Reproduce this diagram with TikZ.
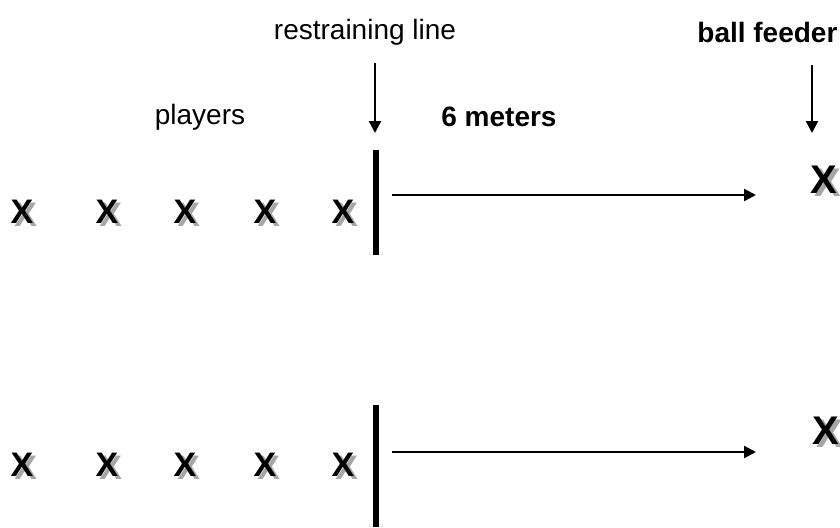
\documentclass[tikz,border=0pt]{standalone}
\usepackage{fontspec}
\setmainfont{Liberation Sans}
\usetikzlibrary{arrows.meta}
\newcommand{\shX}{\rlap{\hspace{1.8pt}\raisebox{-1.6pt}[0pt][0pt]{\textcolor{black!35}{X}}}X}
\begin{document}
\begin{tikzpicture}[x=0.5pt,y=-0.5pt,
  lbl/.style={font=\fontsize{14}{16}\selectfont, inner sep=0pt},
  blbl/.style={font=\fontsize{14}{16}\selectfont\bfseries, inner sep=0pt},
  xm/.style={font=\fontsize{17}{19}\selectfont\bfseries, inner sep=0pt, text=black},
  fm/.style={font=\fontsize{20}{22}\selectfont\bfseries, inner sep=0pt, text=black},
  bar/.style={line width=3pt},
  arr/.style={line width=1.2pt, -{Triangle[width=6pt,length=6pt]}},
  darr/.style={line width=1.2pt, -{Triangle[width=6pt,length=6pt]}}]
\useasboundingbox (0,0) rectangle (840,527);
\clip (0,0) rectangle (840,527);
% labels
\node[lbl] (rl) at (365,32) {restraining line};
\node[blbl, anchor=west] (bf) at (697,32) {ball feeder};
\node[lbl] (pl) at (200,117) {players};
\node[blbl] (m6) at (499,117) {6 meters};
% pointer arrows
\coordinate (rlA) at (375,63);
\coordinate (rlB) at (375,133);
\coordinate (bfA) at (812,65);
\coordinate (bfB) at (812,133);
\draw[darr] (rlA) -- (rlB);
\draw[darr] (bfA) -- (bfB);
% restraining bars
\coordinate (b1t) at (376,150);
\coordinate (b1b) at (376,255);
\coordinate (b2t) at (376,405);
\coordinate (b2b) at (376,527);
\draw[bar] (b1t) -- (b1b);
\draw[bar] (b2t) -- (b2b);
% distance arrows
\coordinate (a1s) at (392,195);
\coordinate (a1e) at (756,195);
\coordinate (a2s) at (392,452);
\coordinate (a2e) at (756,452);
\draw[arr] (a1s) -- (a1e);
\draw[arr] (a2s) -- (a2e);
% players
\foreach \i/\x in {1/22,2/107,3/185,4/265,5/343}{
  \node[xm] (t\i) at (\x,212) {\shX};
  \node[xm] (u\i) at (\x,465) {\shX};
}
% ball feeders
\node[fm] (f1) at (824,180) {\shX};
\node[fm] (f2) at (826,431) {\shX};
\end{tikzpicture}
\end{document}
